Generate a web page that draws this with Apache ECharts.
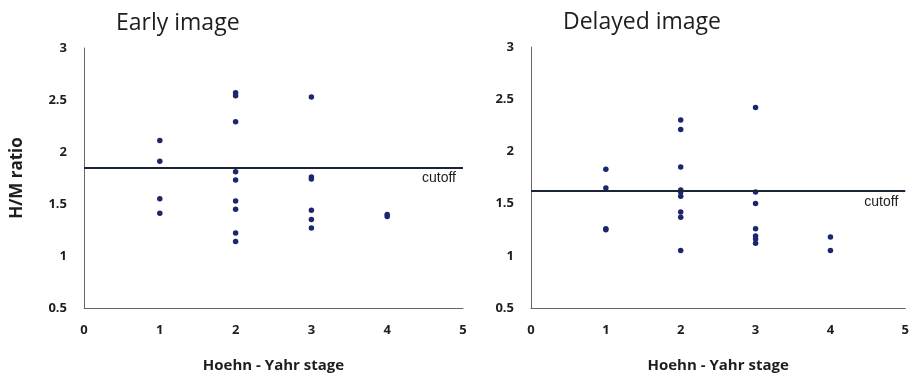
<!DOCTYPE html>
<html>
<head>
<meta charset="utf-8">
<script src="https://cdn.jsdelivr.net/npm/echarts@6/dist/echarts.min.js"></script>
<style>
  html, body { margin: 0; padding: 0; background: #fff; }
  #chart { width: 912px; height: 378px; }
</style>
</head>
<body>
<div id="chart"></div>
<script>
// H/M ratio per Hoehn-Yahr stage, early and delayed images
const stages = [1, 2, 3, 4];
const earlyStage1 = [2.11, 1.91, 1.55, 1.41];
const earlyStage2 = [2.57, 2.54, 2.29, 1.81, 1.73, 1.53, 1.45, 1.22, 1.14];
const earlyStage3 = [2.53, 1.76, 1.74, 1.44, 1.35, 1.27];
const earlyStage4 = [1.40, 1.38];
const earlyCutoff = 1.85;

const delayedStage1 = [1.83, 1.65, 1.26, 1.25];
const delayedStage2 = [2.30, 2.21, 1.85, 1.63, 1.61, 1.57, 1.42, 1.37, 1.05];
const delayedStage3 = [2.42, 1.61, 1.50, 1.26, 1.19, 1.16, 1.12];
const delayedStage4 = [1.18, 1.05];
const delayedCutoff = 1.62;

const xTicks = [0, 1, 2, 3, 4, 5];
const yTicks = [0.5, 1, 1.5, 2, 2.5, 3];

function toPoints(groups) {
  const pts = [];
  groups.forEach((vals, i) => vals.forEach(v => pts.push([stages[i], v])));
  return pts;
}
const earlyPoints = toPoints([earlyStage1, earlyStage2, earlyStage3, earlyStage4]);
const delayedPoints = toPoints([delayedStage1, delayedStage2, delayedStage3, delayedStage4]);

const dotColor = '#1c256e';
const textColor = '#1e1e1e';
const labelFont = '"Open Sans", "DejaVu Sans", sans-serif';

function xAxis(gridIndex) {
  return {
    type: 'value', gridIndex,
    min: xTicks[0], max: xTicks[xTicks.length - 1], interval: 1,
    name: 'Hoehn - Yahr stage', nameLocation: 'middle', nameGap: 50,
    nameTextStyle: { fontFamily: labelFont, fontWeight: 'bold', fontSize: 15, color: textColor },
    axisLine: { show: true, lineStyle: { color: '#666', width: 1 } },
    axisTick: { show: false },
    splitLine: { show: false },
    axisLabel: { margin: 16, fontFamily: labelFont, fontWeight: 'bold', fontSize: 13, color: textColor }
  };
}
function yAxis(gridIndex, withName) {
  return {
    type: 'value', gridIndex,
    min: yTicks[0], max: yTicks[yTicks.length - 1], interval: 0.5,
    name: withName ? 'H/M ratio' : '', nameLocation: 'middle', nameGap: 58,
    nameTextStyle: { fontFamily: labelFont, fontWeight: 'bold', fontSize: 17, color: textColor },
    axisLine: { show: true, lineStyle: { color: '#666', width: 1 } },
    axisTick: { show: false },
    splitLine: { show: false },
    axisLabel: { margin: 17, fontFamily: labelFont, fontWeight: 'bold', fontSize: 13, color: textColor }
  };
}
function scatter(idx, data, cutoff) {
  return {
    type: 'scatter', xAxisIndex: idx, yAxisIndex: idx,
    data, symbolSize: 5.5,
    itemStyle: { color: dotColor, opacity: 1 },
    markLine: {
      silent: true, symbol: 'none',
      lineStyle: { color: '#1a2433', width: 2, type: 'solid' },
      label: {
        position: 'insideEndBottom', formatter: 'cutoff', distance: [7, 4],
        fontFamily: '"Liberation Sans", Arial, sans-serif', fontSize: 14, color: textColor
      },
      data: [{ yAxis: cutoff }]
    }
  };
}

const chart = echarts.init(document.getElementById('chart'), null, { renderer: 'canvas' });
chart.setOption({
  animation: false,
  backgroundColor: '#fff',
  title: [
    { text: 'Early image', left: 111, top: 7,
      textStyle: { fontFamily: labelFont, fontWeight: 'normal', fontSize: 23, color: textColor } },
    { text: 'Delayed image', left: 558, top: 6,
      textStyle: { fontFamily: labelFont, fontWeight: 'normal', fontSize: 23, color: textColor } }
  ],
  grid: [
    { left: 84, top: 48, width: 379, height: 264 },
    { left: 531, top: 47, width: 378, height: 263 }
  ],
  xAxis: [xAxis(0), xAxis(1)],
  yAxis: [yAxis(0, true), yAxis(1, false)],
  series: [
    scatter(0, earlyPoints, earlyCutoff),
    scatter(1, delayedPoints, delayedCutoff)
  ]
});
</script>
</body>
</html>
